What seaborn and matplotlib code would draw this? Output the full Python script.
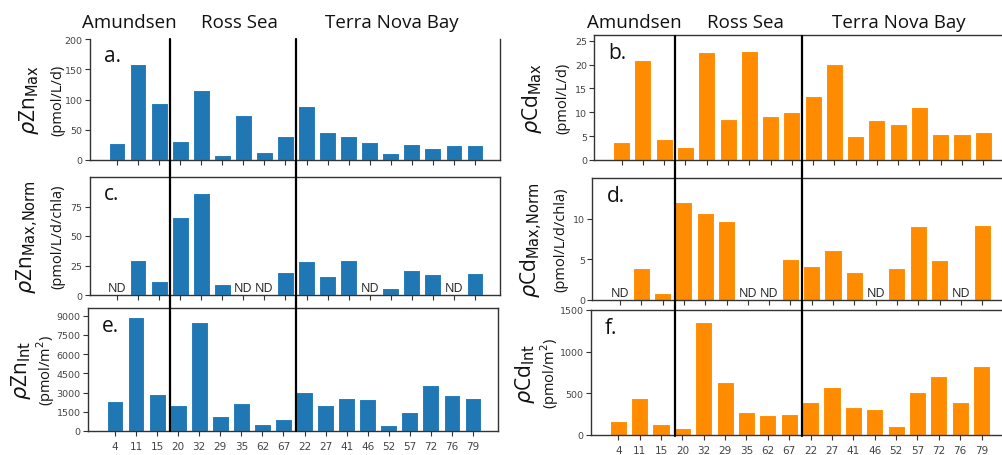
import numpy as np
import pandas as pd
import seaborn as sns
import matplotlib.pyplot as plt
import matplotlib.transforms as mtransforms
from matplotlib.lines import Line2D

# Stations in sampling order, grouped by region
stations = ["4", "11", "15", "20", "32", "29", "35", "62", "67",
            "22", "27", "41", "46", "52", "57", "72", "76", "79"]
regions = ["Amundsen", "Ross Sea", "Terra Nova Bay"]
region_sizes = [3, 6, 9]

nan = np.nan
# Zinc uptake rates
zn_max = [28, 158, 94, 31, 116, 8, 74, 13, 39, 90, 46, 39, 30, 11, 26, 20, 25, 24]
zn_norm = [nan, 29.7, 11.6, 66, 86.6, 9, nan, nan, 19.5, 28.6, 16.1, 29.7, nan,
           6.2, 21.5, 17.5, nan, 19]
zn_int = [2320, 8870, 2870, 2060, 8480, 1200, 2220, 570, 960, 3050, 2060, 2580,
          2530, 500, 1490, 3600, 2840, 2580]
# Cadmium uptake rates
cd_max = [3.8, 20.9, 4.3, 2.7, 22.7, 8.5, 22.8, 9.2, 10.1, 13.4, 20.1, 5.1, 8.4,
          7.5, 11.2, 5.4, 5.5, 5.9]
cd_norm = [nan, 3.9, 0.9, 12.1, 10.7, 9.7, nan, nan, 5.1, 4.2, 6.2, 3.4, nan,
           4.0, 9.1, 4.9, nan, 9.3]
cd_int = [168, 445, 128, 84, 1360, 634, 273, 241, 253, 401, 578, 337, 309, 104,
          521, 710, 397, 826]

ZN_COLOR = "#1f77b4"
CD_COLOR = "#ff8c00"

sns.set_style("ticks")
plt.rcParams["font.family"] = ["Open Sans", "DejaVu Sans"]
plt.rcParams["mathtext.fontset"] = "dejavusans"

W, H = 1002, 456
fig = plt.figure(figsize=(W / 100, H / 100), dpi=100)


def px_axes(left, top, right, bottom):
    return fig.add_axes([left / W, 1 - bottom / H, (right - left) / W, (bottom - top) / H])


# name, data, colour, ylim, yticks, big label, unit label, box (l, t, r, b),
# big-label x, unit-label x, tick labels shown, top spine shown
panels = [
    ("a", zn_max, ZN_COLOR, 200, [0, 50, 100, 150, 200],
     r"$\rho$Zn$_{\mathrm{Max}}$", "(pmol/L/d)", (89.6, 40, 500.3, 161), 29, 58, False, False),
    ("c", zn_norm, ZN_COLOR, 100, [0, 25, 50, 75],
     r"$\rho$Zn$_{\mathrm{Max{,}Norm}}$", "(pmol/L/d/chla)", (89.6, 178, 500.3, 296), 28, 58, False, True),
    ("e", zn_int, ZN_COLOR, 9600, [0, 1500, 3000, 4500, 6000, 7500, 9000],
     r"$\rho$Zn$_{\mathrm{Int}}$", "(pmol/m$^2$)", (87.6, 309, 498.3, 432), 21, 46, True, True),
    ("b", cd_max, CD_COLOR, 26.2, [0, 5, 10, 15, 20, 25],
     r"$\rho$Cd$_{\mathrm{Max}}$", "(pmol/L/d)", (594, 36, 1008.8, 161), 532, 563, False, True),
    ("d", cd_norm, CD_COLOR, 15.06, [0, 5, 10],
     r"$\rho$Cd$_{\mathrm{Max{,}Norm}}$", "(pmol/L/d/chla)", (592.3, 179, 1007.7, 301), 532, 561, False, True),
    ("f", cd_int, CD_COLOR, 1500, [0, 500, 1000, 1500],
     r"$\rho$Cd$_{\mathrm{Int}}$", "(pmol/m$^2$)", (590.5, 311, 1007.2, 436), 525, 550, True, True),
]

axes = {}
for (name, vals, color, ymax, yticks, big, unit, box, bigx, unitx,
     show_xt, show_top) in panels:
    l, t, r, b = box
    ax = px_axes(l, t, r, b)
    axes[name] = ax
    df = pd.DataFrame({"station": stations, "value": vals})
    sns.barplot(data=df, x="station", y="value", order=stations, color=color,
                saturation=1, width=0.8, edgecolor="white", linewidth=0.8, ax=ax)
    ax.set_xlim(-1.3, 18.2)
    ax.set_ylim(0, ymax)
    ax.set_yticks(yticks)
    ax.set_xlabel("")
    ax.set_ylabel("")
    for s in ax.spines.values():
        s.set_color("#333333")
        s.set_linewidth(1.0)
    ax.spines["top"].set_visible(show_top)
    ax.tick_params(axis="both", colors="#333333", length=3.5, width=0.8,
                   labelcolor="#444444")
    ax.tick_params(axis="y", labelsize=6.8, pad=1.5)
    ax.tick_params(axis="x", labelsize=7.5, pad=4, labelbottom=show_xt)
    for lab in ax.get_yticklabels() + ax.get_xticklabels():
        lab.set_family("DejaVu Sans")

    # stations without data
    for i, v in enumerate(vals):
        if np.isnan(v):
            ax.text(i, ymax * 0.005, "ND", ha="center", va="bottom",
                    fontsize=9, color="#222222")

    # panel letter
    ax.text(0.035, 0.86, f"{name}.", transform=ax.transAxes, fontsize=15,
            va="center", ha="left", color="#111111")

    # two-line y label
    cy = 1 - ((t + b) / 2) / H
    fig.text(bigx / W, cy, big, rotation=90, ha="center", va="center",
             fontsize=15, color="#111111")
    fig.text(unitx / W, cy, unit, rotation=90, ha="center", va="center",
             fontsize=10.5, color="#111111")

# region separators and region names for each column
bounds = np.cumsum(region_sizes)[:-1] - 0.5
centers = [0.6, 5.8, 13.05]
for top_ax, y_top, y_bot in [(axes["a"], 40, 432), (axes["b"], 36.5, 437)]:
    trans = mtransforms.blended_transform_factory(top_ax.transData, fig.transFigure)
    for xb in bounds:
        fig.add_artist(Line2D([xb, xb], [1 - y_top / H, 1 - y_bot / H],
                              transform=trans, color="black", lw=1.6))
    for name, cx in zip(regions, centers):
        fig.text(cx, 1 - 23 / H, name, transform=trans, ha="center", va="center",
                 fontsize=13.5, color="#111111")

fig.savefig("out.png", dpi=100)
